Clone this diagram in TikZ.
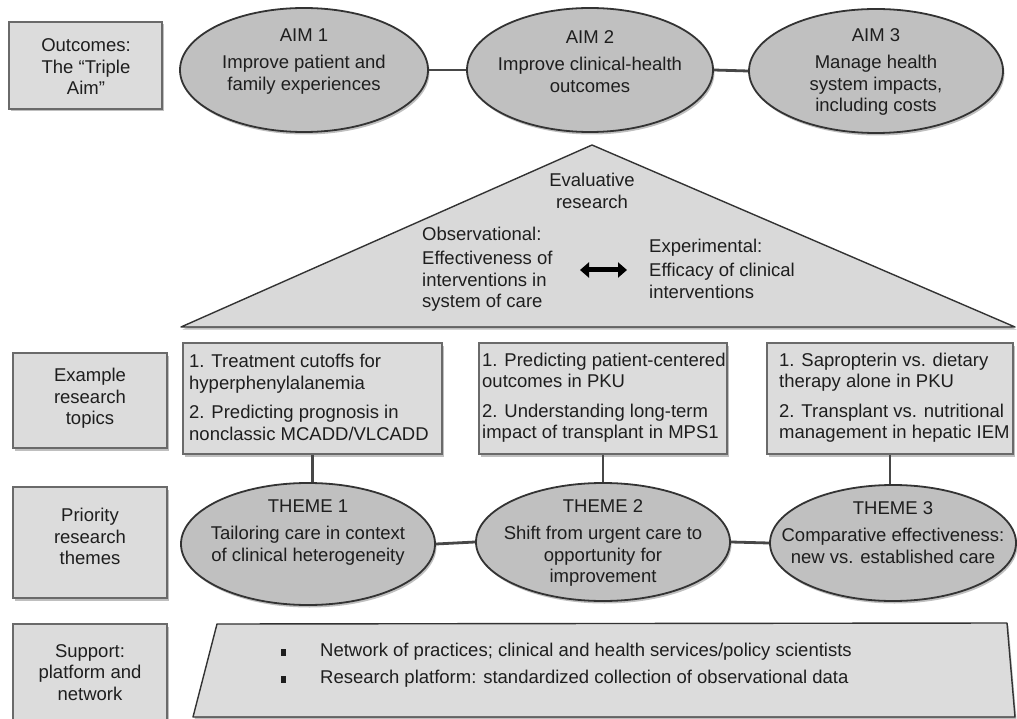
\documentclass[tikz,border=0pt]{standalone}
\usepackage{fontspec}
\setmainfont{Liberation Sans}
\usetikzlibrary{shapes.geometric,shadows,arrows.meta}
\definecolor{boxfill}{HTML}{DCDCDC}
\definecolor{ellfill}{HTML}{C0C0C0}
\definecolor{trifill}{HTML}{D9D9D9}
\definecolor{edgedark}{HTML}{333333}
\definecolor{boxedge}{HTML}{6A6A6A}
\definecolor{ink}{HTML}{1E1E1E}
\begin{document}
\begin{tikzpicture}[x=1pt,y=-1pt,
  font=\fontsize{18.5}{21.5}\selectfont, text=ink,
  softshadow/.style={drop shadow={shadow xshift=1.5pt,shadow yshift=-2.5pt,opacity=0.25,fill=black}},
  lbox/.style={draw=boxedge,line width=1.3pt,fill=boxfill,inner sep=0pt,softshadow},
  ell/.style={ellipse,draw=edgedark,line width=1.8pt,fill=ellfill,inner sep=0pt,softshadow},
  txt/.style={align=center,inner sep=0pt},
  ltxt/.style={align=left,inner sep=0pt},
  conn/.style={draw=edgedark!90,line width=2.8pt},
  bul/.style={fill=ink,inner sep=0pt,minimum width=5pt,minimum height=7pt}]
\useasboundingbox[fill=white] (0,0) rectangle (1017,719);

% ---------- left label boxes ----------
\node[lbox,minimum width=153pt,minimum height=87pt] (lb1) at (85.5,65.5) {};
\node[txt] (lt1) at (86,67) {Outcomes:\\The “Triple\\Aim”};
\node[lbox,minimum width=154pt,minimum height=95pt] (lb2) at (90,400.5) {};
\node[txt] (lt2) at (90,398.5) {Example\\research\\topics};
\node[lbox,minimum width=154pt,minimum height=111pt] (lb3) at (90,542.5) {};
\node[txt] (lt3) at (90,536.5) {Priority\\research\\themes};
\node[lbox,minimum width=154pt,minimum height=110pt] (lb4) at (90,679) {};
\node[txt] (lt4) at (90,672.5) {Support:\\platform and\\network};

% ---------- AIM ellipses ----------
\node[ell,minimum width=248pt,minimum height=124pt] (aim1) at (304,70) {};
\node[ell,minimum width=246pt,minimum height=124pt] (aim2) at (590,70) {};
\node[ell,minimum width=254pt,minimum height=124pt] (aim3) at (876,71) {};
\draw[conn] (aim1.east) -- (aim2.west);
\draw[conn] (aim2.east) -- (aim3.west);
\node[txt] (a1t) at (304,61.5) {AIM 1\\[6pt]Improve patient and\\family experiences};
\node[txt] (a2t) at (590,61.5) {AIM 2\\[6pt]Improve clinical-health\\outcomes};
\node[txt] (a3t) at (876,72) {AIM 3\\[6pt]Manage health\\system impacts,\\including costs};

% ---------- triangle ----------
\coordinate (tl) at (181,327);
\coordinate (tt) at (592,145);
\coordinate (tr) at (1015,327);
\fill[black,opacity=0.25] ([shift={(1.5,2.5)}]tl) -- ([shift={(1.5,2.5)}]tt) -- ([shift={(1.5,2.5)}]tr) -- cycle;
\draw[draw=edgedark,line width=1.4pt,fill=trifill,line join=round] (tl) -- (tt) -- (tr) -- cycle;
\node[txt] (evt) at (592,191) {Evaluative\\research};
\node[ltxt,anchor=west] (obs) at (422,269) {Observational:\\[3pt]Effectiveness of\\interventions in\\system of care};
\node[ltxt,anchor=west] (expt) at (649,268.5) {Experimental:\\[3pt]Efficacy of clinical\\interventions};
\coordinate (arl) at (580,270);
\coordinate (arr) at (627,270);
\draw[line width=5pt,black,{Triangle[length=9pt,width=15pt]}-{Triangle[length=9pt,width=15pt]}] (arl) -- (arr);

% ---------- topic boxes ----------
\node[lbox,minimum width=259pt,minimum height=111pt] (tb1) at (312.5,398.5) {};
\node[lbox,minimum width=248pt,minimum height=111pt] (tb2) at (603,398.5) {};
\node[lbox,minimum width=246pt,minimum height=111pt] (tb3) at (890,398.5) {};
\node[ltxt,anchor=west] (tt1) at (189,397.5) {1. Treatment cutoffs for\\hyperphenylalanemia\\[8pt]2. Predicting prognosis in\\nonclassic MCADD/VLCADD};
\node[ltxt,anchor=west] (tt2) at (482,397.5) {1. Predicting patient-centered\\outcomes in PKU\\[8pt]2. Understanding long-term\\impact of transplant in MPS1};
\node[ltxt,anchor=west] (tt3) at (779,397.5) {1. Sapropterin vs. dietary\\therapy alone in PKU\\[8pt]2. Transplant vs. nutritional\\management in hepatic IEM};

% ---------- THEME ellipses ----------
\node[ell,minimum width=254pt,minimum height=122pt] (th1) at (308,544) {};
\node[ell,minimum width=254pt,minimum height=118pt] (th2) at (603,542) {};
\node[ell,minimum width=246pt,minimum height=116pt] (th3) at (893,543) {};
\draw[conn] (tb1.south) -- (tb1.south |- th1.north);
\draw[conn] (tb2.south) -- (tb2.south |- th2.north);
\draw[conn] (tb3.south) -- (tb3.south |- th3.north);
\draw[conn] (th1.east) -- (th2.west);
\draw[conn] (th2.east) -- (th3.west);
\node[txt] (t1t) at (308,532.5) {THEME 1\\[6pt]Tailoring care in context\\of clinical heterogeneity};
\node[txt] (t2t) at (603,543) {THEME 2\\[6pt]Shift from urgent care to\\opportunity for\\improvement};
\node[txt] (t3t) at (893,532.5) {THEME 3\\[6pt]Comparative effectiveness:\\new vs. established care};

% ---------- support trapezoid ----------
\coordinate (p1) at (217,624);
\coordinate (p2) at (1007,623);
\coordinate (p3) at (1015,717);
\coordinate (p4) at (193,717);
\fill[black,opacity=0.25] ([shift={(1.5,2.5)}]p1) -- ([shift={(1.5,2.5)}]p2) -- ([shift={(1.5,2.5)}]p3) -- ([shift={(1.5,2.5)}]p4) -- cycle;
\draw[draw=edgedark,line width=1.4pt,fill=boxfill,line join=round] (p1) -- (p2) -- (p3) -- (p4) -- cycle;
\node[bul] (b1) at (283,652) {};
\node[bul] (b2) at (283,679) {};
\node[ltxt,anchor=west] (s1) at (320,652) {Network of practices; clinical and health services/policy scientists};
\node[ltxt,anchor=west] (s2) at (320,679) {Research platform: standardized collection of observational data};
\end{tikzpicture}
\end{document}
